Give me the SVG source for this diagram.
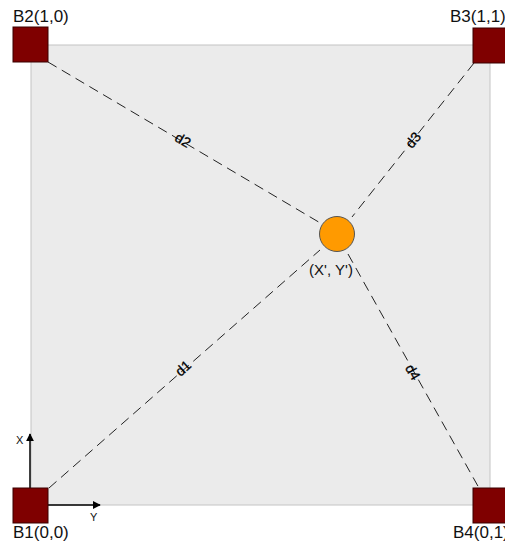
<svg xmlns="http://www.w3.org/2000/svg" width="505" height="547" viewBox="0 0 505 547">
<defs>
<style>
.t{font-family:"Liberation Sans",Arial,sans-serif;fill:#111}
.lbl{font-size:17px}
.dl{font-size:14px;text-anchor:middle;fill:#000;stroke:#000;stroke-width:0.3}
.beacon{fill:#7f0000;stroke:#3a0000;stroke-width:1}
.dash{stroke:#222;stroke-width:1;stroke-dasharray:10,6;fill:none}
.axis{stroke:#000;stroke-width:1.5;fill:none}
</style>
<marker id="ah" viewBox="0 0 10 10" refX="9" refY="5" markerWidth="8" markerHeight="8" markerUnits="userSpaceOnUse" orient="auto"><path d="M0,0 L10,5 L0,10 z" fill="#000"/></marker>
</defs>
<rect id="area" x="31" y="45" width="459" height="460" fill="#ebebeb" stroke="#c4c4c4" stroke-width="1"/>
<g id="connectors">
<line class="dash" x1="48" y1="62" x2="322" y2="224"/>
<line class="dash" x1="474" y1="63" x2="352" y2="217"/>
<line class="dash" x1="49" y1="488" x2="320" y2="250"/>
<line class="dash" x1="348" y1="254" x2="479" y2="488"/>
<text class="t dl" transform="translate(183,140) rotate(30.6)" dy="5">d2</text>
<text class="t dl" transform="translate(413,140) rotate(-51.6)" dy="5">d3</text>
<text class="t dl" transform="translate(183,368) rotate(-41.3)" dy="5">d1</text>
<text class="t dl" transform="translate(413,372) rotate(60.8)" dy="5">d4</text>
<line class="axis" x1="30" y1="488" x2="30" y2="434" marker-end="url(#ah)"/>
<line class="axis" x1="48" y1="505" x2="100" y2="505" marker-end="url(#ah)"/>
</g>
<text class="t" x="16" y="444" font-size="11">X</text>
<text class="t" x="90" y="521" font-size="11">Y</text>
<g id="B2"><rect class="beacon" x="13" y="27" width="35" height="35"/><text class="t lbl" x="13" y="22">B2(1,0)</text></g>
<g id="B3"><rect class="beacon" x="473" y="28" width="35" height="35"/><text class="t lbl" x="450" y="22">B3(1,1)</text></g>
<g id="B1"><rect class="beacon" x="13" y="488" width="35" height="35"/><text class="t lbl" x="13" y="538">B1(0,0)</text></g>
<g id="B4"><rect class="beacon" x="473" y="488" width="35" height="35"/><text class="t lbl" x="453" y="538">B4(0,1)</text></g>
<g id="P"><circle cx="337" cy="234" r="17.5" fill="#ff9a00" stroke="#555" stroke-width="1"/><text class="t" x="331" y="275" font-size="15" text-anchor="middle">(X', Y')</text></g>
</svg>
